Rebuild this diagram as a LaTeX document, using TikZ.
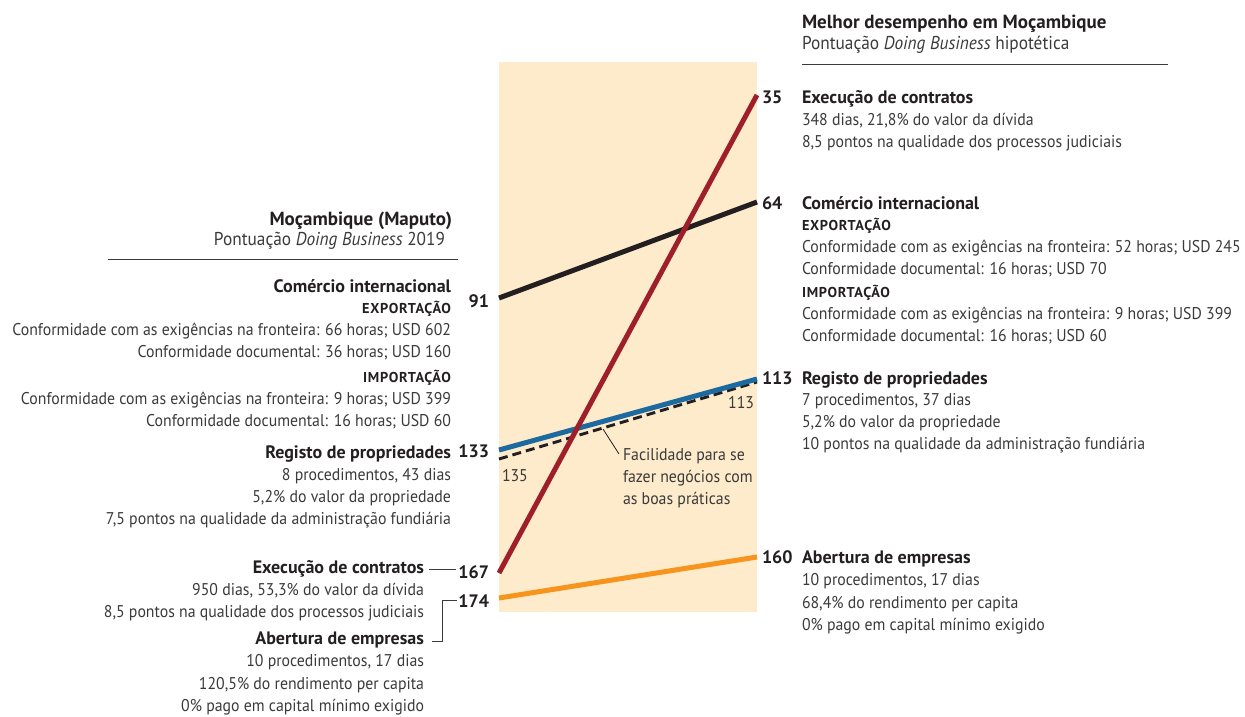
\documentclass[tikz,border=0pt]{standalone}
\usepackage{fontspec}
\setmainfont{PT Sans}
\newfontfamily\bodyf{PT Sans}[FakeStretch=0.93]
\newfontfamily\capsf{PT Sans}[LetterSpace=5]
\definecolor{band}{HTML}{FDEBCB}
\definecolor{cred}{HTML}{9E1F2A}
\definecolor{cblk}{HTML}{231F20}
\definecolor{cblu}{HTML}{1D6AA0}
\definecolor{cora}{HTML}{F7941D}
\definecolor{txt}{HTML}{3A3A3A}
\definecolor{hdc}{HTML}{231F20}
\tikzset{
  base/.style={inner sep=0pt, outer sep=0pt},
  bl/.style={base, anchor=base east, font=\bodyf\fontsize{17}{20}\selectfont, text=txt},
  br/.style={base, anchor=base west, font=\bodyf\fontsize{17}{20}\selectfont, text=txt},
  sub/.style={font=\bodyf\fontsize{18.6}{20}\selectfont},
  hl/.style={base, anchor=base east, font=\bfseries\fontsize{18}{20}\selectfont, text=hdc},
  hr/.style={base, anchor=base west, font=\bfseries\fontsize{18}{20}\selectfont, text=hdc},
  cl/.style={base, anchor=base east, font=\capsf\bfseries\fontsize{14.3}{16}\selectfont, text=hdc},
  cr/.style={base, anchor=base west, font=\capsf\bfseries\fontsize{14.3}{16}\selectfont, text=hdc},
  numl/.style={base, anchor=base east, font=\bfseries\fontsize{18}{20}\selectfont, text=hdc},
  numr/.style={base, anchor=base west, font=\bfseries\fontsize{18}{20}\selectfont, text=hdc},
  snum/.style={base, font=\bodyf\fontsize{17}{20}\selectfont, text=txt},
  series/.style={line width=5pt, line cap=butt},
  rule/.style={line width=0.8pt, draw=txt},
}
\begin{document}
\begin{tikzpicture}[x=1pt,y=-1pt]
\useasboundingbox (0,0) rectangle (1245,716);
% band
\fill[band] (499,62) rectangle (757,612);
% series end points
\coordinate (rL) at (499,573); \coordinate (rR) at (757,95);
\coordinate (kL) at (499,298); \coordinate (kR) at (757,202);
\coordinate (bL) at (499,450); \coordinate (bR) at (757,379);
\coordinate (dL) at (499,459); \coordinate (dR) at (757,382);
\coordinate (oL) at (499,598); \coordinate (oR) at (757,557);
\draw[series, draw=cora] (oL) -- (oR);
\draw[line width=2.9pt, draw=cblk, dash pattern=on 9pt off 5pt] (dL) -- (dR);
\draw[series, draw=cblu] (bL) -- (bR);
\draw[series, draw=cblk] (kL) -- (kR);
\draw[series, draw=cred] (rL) -- (rR);
% right header
\node[hr, font=\bfseries\fontsize{19}{20}\selectfont] (hR1) at (802,28) {Melhor desempenho em Moçambique};
\node[br, sub] (hR2) at (802,49) {Pontuação \textit{Doing Business} hipotética};
\coordinate (hRa) at (802,64); \coordinate (hRb) at (1168,64);
\draw[rule] (hRa) -- (hRb);
% left header
\node[hl, font=\bfseries\fontsize{19}{20}\selectfont] (hL1) at (452,225) {Moçambique (Maputo)};
\node[bl, sub] (hL2) at (445,245) {Pontuação \textit{Doing Business} 2019};
\coordinate (hLa) at (108,259); \coordinate (hLb) at (458,259);
\draw[rule] (hLa) -- (hLb);
% left: comercio
\node[hl] (lc1) at (451,292) {Comércio internacional};
\node[cl] (lc2) at (451,313) {EXPORTAÇÃO};
\node[bl] (lc3) at (451,335.5) {Conformidade com as exigências na fronteira: 66 horas; USD 602};
\node[bl] (lc4) at (451,357.5) {Conformidade documental: 36 horas; USD 160};
\node[cl] (lc5) at (451,382) {IMPORTAÇÃO};
\node[bl] (lc6) at (451,404) {Conformidade com as exigências na fronteira: 9 horas; USD 399};
\node[bl] (lc7) at (451,426) {Conformidade documental: 16 horas; USD 60};
% left: registo
\node[hl] (lr1) at (451,458) {Registo de propriedades};
\node[bl] (lr2) at (451,480) {8 procedimentos, 43 dias};
\node[bl] (lr3) at (451,502) {5,2\% do valor da propriedade};
\node[bl] (lr4) at (451,524) {7,5 pontos na qualidade da administração fundiária};
% left: execucao
\node[hl] (le1) at (424,573) {Execução de contratos};
\node[bl] (le2) at (424,595) {950 dias, 53,3\% do valor da dívida};
\node[bl] (le3) at (424,617) {8,5 pontos na qualidade dos processos judiciais};
% left: abertura
\node[hl] (la1) at (424,644) {Abertura de empresas};
\node[bl] (la2) at (424,666) {10 procedimentos, 17 dias};
\node[bl] (la3) at (424,689) {120,5\% do rendimento per capita};
\node[bl] (la4) at (424,711) {0\% pago em capital mínimo exigido};
% left numbers
\node[numl] (n91) at (489,307) {91};
\node[numl] (n133) at (489,457) {133};
\node[numl] (n167) at (489,578) {167};
\node[numl] (n174) at (489,607) {174};
\node[snum, anchor=base west] (n135) at (502,481) {135};
% left connectors
\coordinate (eA) at (429,569.5); \coordinate (eB) at (456,569.5);
\draw[rule] (eA) -- (eB);
\coordinate (aA) at (432,641); \coordinate (aB) at (442,641);
\coordinate (aC) at (442,600); \coordinate (aD) at (457,600);
\draw[rule] (aA) -- (aB) -- (aC) -- (aD);
% right numbers
\node[numr] (n35) at (762,103) {35};
\node[numr] (n64) at (762,209) {64};
\node[numr] (n113) at (762,384) {113};
\node[numr] (n160) at (762,563) {160};
\node[snum, anchor=base east] (s113) at (754,408) {113};
% right: execucao
\node[hr] (re1) at (802,103) {Execução de contratos};
\node[br] (re2) at (802,125) {348 dias, 21,8\% do valor da dívida};
\node[br] (re3) at (802,147) {8,5 pontos na qualidade dos processos judiciais};
% right: comercio
\node[hr] (rc1) at (802,209) {Comércio internacional};
\node[cr] (rc2) at (802,230) {EXPORTAÇÃO};
\node[br] (rc3) at (802,252) {Conformidade com as exigências na fronteira: 52 horas; USD 245};
\node[br] (rc4) at (802,274) {Conformidade documental: 16 horas; USD 70};
\node[cr] (rc5) at (802,297) {IMPORTAÇÃO};
\node[br] (rc6) at (802,319.5) {Conformidade com as exigências na fronteira: 9 horas; USD 399};
\node[br] (rc7) at (802,341.5) {Conformidade documental: 16 horas; USD 60};
% right: registo
\node[hr] (rr1) at (802,384) {Registo de propriedades};
\node[br] (rr2) at (802,405.5) {7 procedimentos, 37 dias};
\node[br] (rr3) at (802,427.5) {5,2\% do valor da propriedade};
\node[br] (rr4) at (802,449.5) {10 pontos na qualidade da administração fundiária};
% right: abertura
\node[hr] (ra1) at (802,563) {Abertura de empresas};
\node[br] (ra2) at (802,585.5) {10 procedimentos, 17 dias};
\node[br] (ra3) at (802,608) {68,4\% do rendimento per capita};
\node[br] (ra4) at (802,630.5) {0\% pago em capital mínimo exigido};
% annotation
\node[br] (nt1) at (623,460) {Facilidade para se};
\node[br] (nt2) at (623,482) {fazer negócios com};
\node[br] (nt3) at (623,504) {as boas práticas};
\coordinate (dPt) at (603,429);
\coordinate (ntP) at (619,454);
\draw[line width=0.8pt, draw=cblk] (dPt) -- (ntP);
\end{tikzpicture}
\end{document}
